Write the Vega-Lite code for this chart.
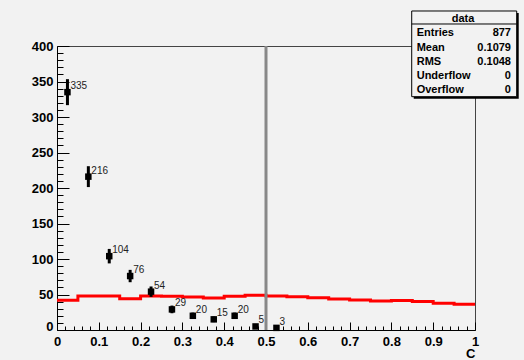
{
  "$schema": "https://vega.github.io/schema/vega-lite/v6.json",
  "width": 418,
  "height": 284,
  "autosize": {"type": "none"},
  "padding": {"left": 57, "top": 46, "right": 49, "bottom": 30},
  "background": "#f2f2f2",
  "config": {"font": "Liberation Sans", "view": {"stroke": "#444", "strokeWidth": 1, "fill": null}},
  "datasets": {
    "points": [
      {"x": 0.025, "y": 335}, {"x": 0.075, "y": 216}, {"x": 0.125, "y": 104},
      {"x": 0.175, "y": 76}, {"x": 0.225, "y": 54}, {"x": 0.275, "y": 29},
      {"x": 0.325, "y": 20}, {"x": 0.375, "y": 15}, {"x": 0.425, "y": 20},
      {"x": 0.475, "y": 5}, {"x": 0.525, "y": 3}
    ],
    "errs": [
      {"x": 0.025, "y": 316.7, "y2": 353.3},
      {"x": 0.075, "y": 201.3, "y2": 230.7},
      {"x": 0.125, "y": 93.8, "y2": 114.2},
      {"x": 0.175, "y": 67.3, "y2": 84.7},
      {"x": 0.225, "y": 46.7, "y2": 61.3},
      {"x": 0.275, "y": 23.6, "y2": 34.4},
      {"x": 0.325, "y": 15.5, "y2": 24.5},
      {"x": 0.375, "y": 11.1, "y2": 18.9},
      {"x": 0.425, "y": 15.5, "y2": 24.5},
      {"x": 0.475, "y": 2.8, "y2": 7.2},
      {"x": 0.525, "y": 1.3, "y2": 4.7}
    ],
    "model": [
      {"x": 0.0, "y": 42}, {"x": 0.05, "y": 48}, {"x": 0.1, "y": 48},
      {"x": 0.15, "y": 44}, {"x": 0.2, "y": 48}, {"x": 0.25, "y": 47.5},
      {"x": 0.3, "y": 46.5}, {"x": 0.35, "y": 45}, {"x": 0.4, "y": 47.5},
      {"x": 0.45, "y": 49}, {"x": 0.5, "y": 48}, {"x": 0.55, "y": 47},
      {"x": 0.6, "y": 45.5}, {"x": 0.65, "y": 43.7}, {"x": 0.7, "y": 42.3},
      {"x": 0.75, "y": 40.8}, {"x": 0.8, "y": 41.5}, {"x": 0.85, "y": 40.3},
      {"x": 0.9, "y": 37.6}, {"x": 0.95, "y": 36.2}, {"x": 1.0, "y": 36.2}
    ],
    "cut": [{"x": 0.5, "y": 0, "y2": 400}],
    "shadow": [{"x": 0.8534, "x2": 1.1046, "y": 446.5, "y2": 325.8}],
    "box": [{"x": 0.8486, "x2": 1.0998, "y": 449.3, "y2": 328.6}],
    "sep": [{"x": 0.8486, "x2": 1.0998, "y": 431}],
    "title": [{"x": 0.9713, "y": 438, "t": "data"}],
    "statk": [
      {"x": 0.8605, "y": 418.3, "t": "Entries"},
      {"x": 0.8605, "y": 397.6, "t": "Mean"},
      {"x": 0.8605, "y": 377.9, "t": "RMS"},
      {"x": 0.8605, "y": 358.2, "t": "Underflow"},
      {"x": 0.8605, "y": 338.0, "t": "Overflow"}
    ],
    "statv": [
      {"x": 1.0861, "y": 418.3, "t": "877"},
      {"x": 1.0861, "y": 397.6, "t": "0.1079"},
      {"x": 1.0861, "y": 377.9, "t": "0.1048"},
      {"x": 1.0861, "y": 358.2, "t": "0"},
      {"x": 1.0861, "y": 338.0, "t": "0"}
    ]
  },
  "encoding": {
    "x": {
      "field": "x", "type": "quantitative",
      "scale": {"domain": [0, 1], "nice": false, "zero": false},
      "axis": {
        "title": "C", "titleFontSize": 13, "titleFontWeight": "bold", "titleColor": "#000",
        "titleX": 418, "titleY": 27, "titleAlign": "right", "titleBaseline": "alphabetic",
        "values": [0, 0.02, 0.04, 0.06, 0.08, 0.1, 0.12, 0.14, 0.16, 0.18, 0.2, 0.22, 0.24, 0.26, 0.28, 0.3, 0.32, 0.34, 0.36, 0.38, 0.4, 0.42, 0.44, 0.46, 0.48, 0.5, 0.52, 0.54, 0.56, 0.58, 0.6, 0.62, 0.64, 0.66, 0.68, 0.7, 0.72, 0.74, 0.76, 0.78, 0.8, 0.82, 0.84, 0.86, 0.88, 0.9, 0.92, 0.94, 0.96, 0.98, 1],
        "tickSize": {"condition": {"test": "abs(datum.value*10 - round(datum.value*10)) < 1e-6", "value": -8}, "value": -4},
        "labelExpr": "abs(datum.value*10 - round(datum.value*10)) < 1e-6 ? format(datum.value, '.1~f') : ''",
        "labelFontSize": 13, "labelFontWeight": "bold", "labelColor": "#000",
        "labelPadding": 13, "labelFlush": false, "labelOverlap": false,
        "domainColor": "#000", "tickColor": "#000", "tickWidth": 1, "grid": false
      }
    },
    "y": {
      "field": "y", "type": "quantitative",
      "scale": {"domain": [0, 400], "nice": false, "zero": false},
      "axis": {
        "title": null,
        "values": [0, 10, 20, 30, 40, 50, 60, 70, 80, 90, 100, 110, 120, 130, 140, 150, 160, 170, 180, 190, 200, 210, 220, 230, 240, 250, 260, 270, 280, 290, 300, 310, 320, 330, 340, 350, 360, 370, 380, 390, 400],
        "tickSize": {"condition": {"test": "datum.value % 50 === 0", "value": -12}, "value": -6},
        "labelExpr": "datum.value % 50 === 0 ? datum.label : ''",
        "labelBaseline": {"condition": {"test": "datum.value === 0", "value": "alphabetic"}, "value": "middle"},
        "labelFontSize": 13, "labelFontWeight": "bold", "labelColor": "#000",
        "labelPadding": 16, "labelFlush": false, "labelOverlap": false,
        "domainColor": "#000", "tickColor": "#000", "tickWidth": 1, "grid": false
      }
    }
  },
  "layer": [
    {
      "data": {"name": "model"},
      "mark": {"type": "line", "interpolate": "step-after", "color": "#ff0000", "strokeWidth": 3}
    },
    {
      "data": {"name": "cut"},
      "mark": {"type": "rule", "color": "#888888", "strokeWidth": 3},
      "encoding": {"y2": {"field": "y2"}}
    },
    {
      "data": {"name": "errs"},
      "mark": {"type": "rule", "color": "#000", "strokeWidth": 3},
      "encoding": {"y2": {"field": "y2"}}
    },
    {
      "data": {"name": "points"},
      "mark": {"type": "point", "shape": "square", "filled": true, "color": "#000", "size": 42, "opacity": 1}
    },
    {
      "data": {"name": "points"},
      "mark": {"type": "text", "align": "left", "baseline": "alphabetic", "dx": 3, "dy": -3, "fontSize": 10, "color": "#222"},
      "encoding": {"text": {"field": "y", "type": "quantitative"}}
    },
    {
      "data": {"name": "shadow"},
      "mark": {"type": "rect", "color": "#000"},
      "encoding": {"x2": {"field": "x2"}, "y2": {"field": "y2"}}
    },
    {
      "data": {"name": "box"},
      "mark": {"type": "rect", "fill": "#f2f2f2", "stroke": "#000", "strokeWidth": 1},
      "encoding": {"x2": {"field": "x2"}, "y2": {"field": "y2"}}
    },
    {
      "data": {"name": "sep"},
      "mark": {"type": "rule", "color": "#000", "strokeWidth": 1},
      "encoding": {"x2": {"field": "x2"}}
    },
    {
      "data": {"name": "title"},
      "mark": {"type": "text", "align": "center", "baseline": "middle", "fontSize": 11, "fontWeight": "bold", "color": "#000"},
      "encoding": {"text": {"field": "t"}}
    },
    {
      "data": {"name": "statk"},
      "mark": {"type": "text", "align": "left", "baseline": "middle", "fontSize": 11, "fontWeight": "bold", "color": "#000"},
      "encoding": {"text": {"field": "t"}}
    },
    {
      "data": {"name": "statv"},
      "mark": {"type": "text", "align": "right", "baseline": "middle", "fontSize": 11, "fontWeight": "bold", "color": "#000"},
      "encoding": {"text": {"field": "t"}}
    }
  ]
}
